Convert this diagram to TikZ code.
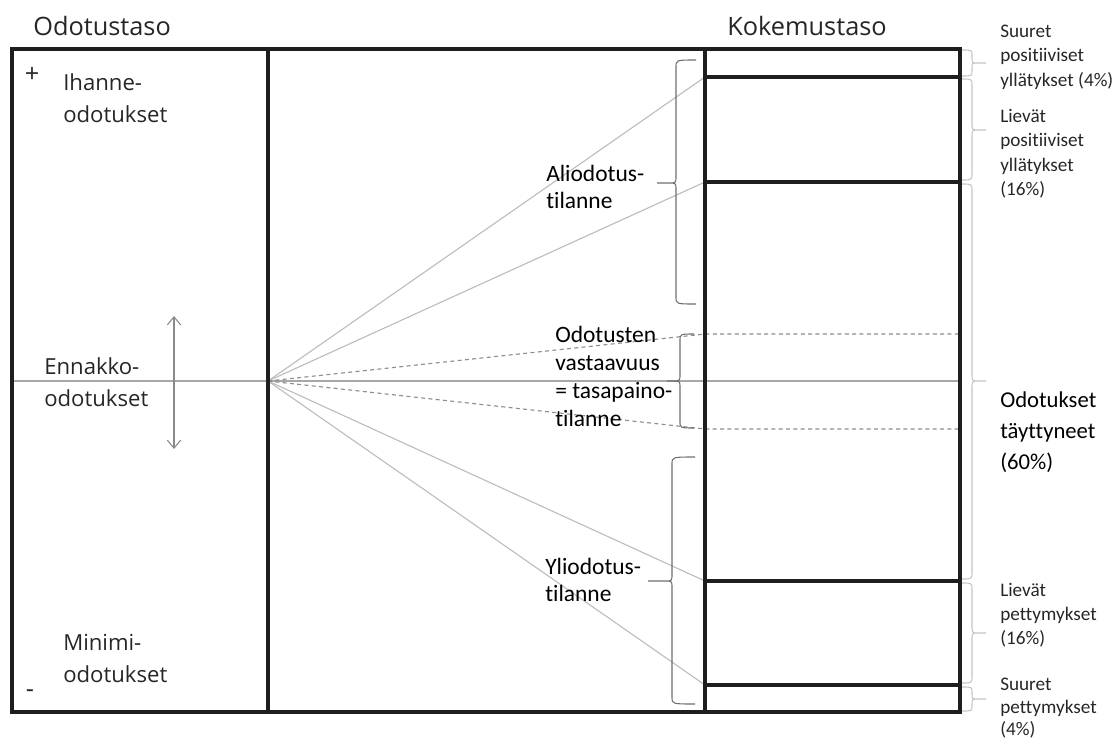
\documentclass[tikz,border=0pt]{standalone}
\usepackage{fontspec}
\setmainfont{Open Sans}
\newfontfamily\calfont[Ligatures=NoCommon]{Carlito}
\usetikzlibrary{arrows.meta}

\definecolor{framecol}{HTML}{1E1E1E}
\definecolor{txtcol}{HTML}{262626}
\definecolor{axiscol}{HTML}{A8A8A8}
\definecolor{fancol}{HTML}{BDBDBD}
\definecolor{dashcol}{HTML}{8E8E8E}
\definecolor{bracedark}{HTML}{6E6E6E}
\definecolor{bracelight}{HTML}{C4C4C4}
\definecolor{arrowcol}{HTML}{8A8A8A}

% curly bracket: style, x of ends, x of spine, x of knee, x of tip, y top, y tip, y bottom
\newcommand\curlbracket[8]{%
  \draw[#1] (#2,#6) .. controls (#3,#6) .. (#3,#6+7) -- (#3,#7-7)
    .. controls (#3,#7) .. (#4,#7) -- (#5,#7)
    (#4,#7) .. controls (#3,#7) .. (#3,#7+7) -- (#3,#8-7)
    .. controls (#3,#8) .. (#2,#8);}
\newcommand\smallbracket[8]{%
  \draw[#1] (#2,#6) .. controls (#3,#6) .. (#3,#6+5) -- (#3,#7-5)
    .. controls (#3,#7) .. (#4,#7) -- (#5,#7)
    (#4,#7) .. controls (#3,#7) .. (#3,#7+5) -- (#3,#8-5)
    .. controls (#3,#8) .. (#2,#8);}

\begin{document}
\begin{tikzpicture}[x=0.75pt,y=-0.75pt,
  frame/.style={draw=framecol,line width=2.3pt},
  axis/.style={draw=axiscol,line width=0.9pt},
  fan/.style={draw=fancol,line width=0.85pt},
  fandash/.style={draw=dashcol,line width=0.85pt,dash pattern=on 3pt off 2.5pt},
  midbrace/.style={draw=bracedark,line width=0.8pt},
  sidebrace/.style={draw=bracelight,line width=0.8pt},
  updown/.style={draw=arrowcol,line width=0.8pt,
    {Straight Barb[length=6pt,width=10pt]}-{Straight Barb[length=6pt,width=10pt]}},
  head/.style={anchor=base west,inner sep=0pt,text=txtcol,
    font=\fontsize{19}{19}\selectfont},
  lbl/.style={anchor=base west,inner sep=0pt,text=txtcol,
    font=\fontsize{16.6}{16.6}\selectfont},
  sign/.style={inner sep=0pt,text=txtcol,font=\fontsize{19}{19}\selectfont},
  mid/.style={anchor=base west,inner sep=0pt,text=black,
    font=\calfont\fontsize{17.6}{17.6}\selectfont},
  side/.style={anchor=base west,inner sep=0pt,text=txtcol,
    font=\calfont\fontsize{14.4}{14.4}\selectfont},
  sidebig/.style={anchor=base west,inner sep=0pt,text=black,
    font=\calfont\fontsize{17}{17}\selectfont}]
\useasboundingbox (0,0) rectangle (1118,740);

% corners and division points
\coordinate (tl) at (12,49);
\coordinate (br) at (960,712);
\coordinate (hub) at (268,381);
\coordinate (axl) at (12,381);
\coordinate (axr) at (960,381);
\coordinate (k1) at (705,77);
\coordinate (k2) at (705,182);
\coordinate (k5) at (705,581);
\coordinate (k6) at (705,685);
\coordinate (k1e) at (960,77);
\coordinate (k2e) at (960,182);
\coordinate (k5e) at (960,581);
\coordinate (k6e) at (960,685);
\coordinate (d1) at (705,334);
\coordinate (d2) at (705,429);
\coordinate (d1e) at (960,334);
\coordinate (d2e) at (960,429);
\coordinate (aup) at (174,316);
\coordinate (adn) at (174,449);

% expectation line and fan of outcomes
\draw[axis] (axl) -- (axr);
\draw[fan] (hub) -- (k1);
\draw[fan] (hub) -- (k2);
\draw[fan] (hub) -- (k5);
\draw[fan] (hub) -- (k6);
\draw[fandash] (hub) -- (d1) -- (d1e);
\draw[fandash] (hub) -- (d2) -- (d2e);
\draw[updown] (aup) -- (adn);

% frame and levels
\draw[frame] (tl) rectangle (br);
\draw[frame] (268,49) -- (268,712);
\draw[frame] (705,49) -- (705,712);
\draw[frame] (k1) -- (k1e);
\draw[frame] (k2) -- (k2e);
\draw[frame] (k5) -- (k5e);
\draw[frame] (k6) -- (k6e);

% brackets in the middle
\curlbracket{midbrace}{696}{676}{669}{657}{60}{183}{304}
\curlbracket{midbrace}{694}{680}{673}{667}{334}{381}{428}
\curlbracket{midbrace}{695}{672}{665}{648}{457}{581}{704}

% brackets on the right
\smallbracket{sidebrace}{962}{972}{978}{986}{50}{63}{76}
\curlbracket{sidebrace}{962}{972}{979}{986}{79}{130}{180}
\curlbracket{sidebrace}{962}{972}{979}{986}{184}{381}{579}
\curlbracket{sidebrace}{962}{972}{979}{986}{583}{633}{683}
\smallbracket{sidebrace}{962}{972}{978}{986}{687}{699}{711}

% headings
\node[head] (h1) at (33,35) {Odotustaso};
\node[head] (h2) at (727,35) {Kokemustaso};

% left column
\node[sign] (plus) at (32,75) {+};
\node[lbl] (ih1) at (63,90) {Ihanne-};
\node[lbl] (ih2) at (63,122) {odotukset};
\node[lbl] (en1) at (44,374) {Ennakko-};
\node[lbl] (en2) at (44,406) {odotukset};
\node[lbl] (mi1) at (63,650) {Minimi-};
\node[lbl] (mi2) at (63,682) {odotukset};
\node[sign] (minus) at (30,694) {-};

% middle labels
\node[mid] (al1) at (546,181) {Aliodotus-};
\node[mid] (al2) at (546,208) {tilanne};
\node[mid] (va1) at (555,342) {Odotusten};
\node[mid] (va2) at (555,370) {vastaavuus};
\node[mid] (va3) at (555,398) {= tasapaino-};
\node[mid] (va4) at (555,426) {tilanne};
\node[mid] (yl1) at (545,574) {Yliodotus-};
\node[mid] (yl2) at (545,601) {tilanne};

% right labels
\node[side] (sp1) at (1000,37) {Suuret};
\node[side] (sp2) at (1000,61.5) {positiiviset};
\node[side] (sp3) at (1000,86) {yllätykset (4\%)};
\node[side] (lp1) at (1000,122) {Lievät};
\node[side] (lp2) at (1000,146.5) {positiiviset};
\node[side] (lp3) at (1000,171) {yllätykset};
\node[side] (lp4) at (1000,195.5) {(16\%)};
\node[sidebig] (ot1) at (1000,407) {Odotukset};
\node[sidebig] (ot2) at (1000,438) {täyttyneet};
\node[sidebig] (ot3) at (1000,469) {(60\%)};
\node[side] (lm1) at (1000,596) {Lievät};
\node[side] (lm2) at (1000,620) {pettymykset};
\node[side] (lm3) at (1000,644) {(16\%)};
\node[side] (sm1) at (1000,690) {Suuret};
\node[side] (sm2) at (1000,713) {pettymykset};
\node[side] (sm3) at (1000,735) {(4\%)};
\end{tikzpicture}
\end{document}
